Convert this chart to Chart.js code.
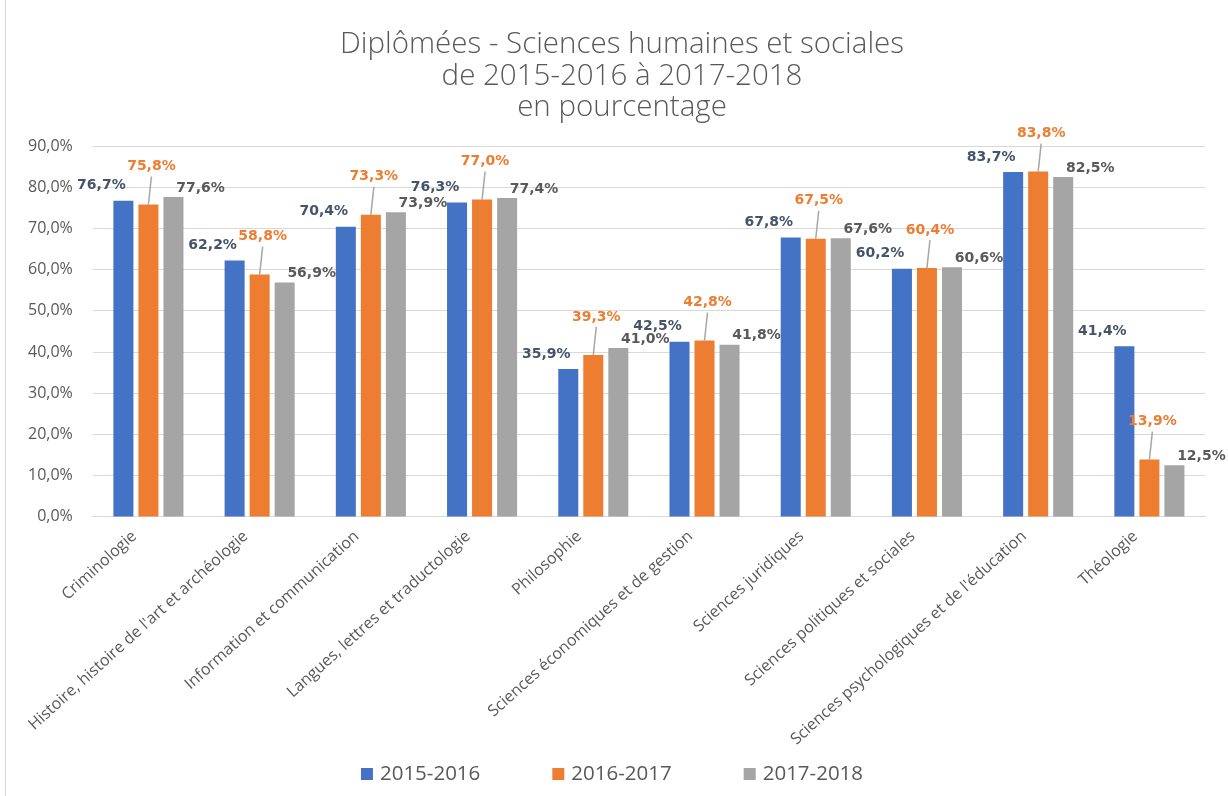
<!DOCTYPE html>
<html lang="fr">
<head>
<meta charset="utf-8">
<title>Diplômées - Sciences humaines et sociales</title>
<script src="https://cdn.jsdelivr.net/npm/chart.js@4.4.1/dist/chart.umd.min.js"></script>
<style>
  html, body { margin: 0; padding: 0; background: #fff; }
  #wrap { position: relative; width: 1228px; height: 796px; }
</style>
</head>
<body>
<div id="wrap"><canvas id="chart"></canvas></div>
<script>
const categories = [
  "Criminologie",
  "Histoire, histoire de l'art et archéologie",
  "Information et communication",
  "Langues, lettres et traductologie",
  "Philosophie",
  "Sciences économiques et de gestion",
  "Sciences juridiques",
  "Sciences politiques et sociales",
  "Sciences psychologiques et de l'éducation",
  "Théologie"
];
const seriesNames = ["2015-2016", "2016-2017", "2017-2018"];
const values2015 = [76.7, 62.2, 70.4, 76.3, 35.9, 42.5, 67.8, 60.2, 83.7, 41.4];
const values2016 = [75.8, 58.8, 73.3, 77.0, 39.3, 42.8, 67.5, 60.4, 83.8, 13.9];
const values2017 = [77.6, 56.9, 73.9, 77.4, 41.0, 41.8, 67.6, 60.6, 82.5, 12.5];
const titleLines = ["Diplômées - Sciences humaines et sociales", "de 2015-2016 à 2017-2018", "en pourcentage"];

const barColors = ["#4472C4", "#ED7D31", "#A5A5A5"];
const labelColors = ["#44546A", "#ED7D31", "#595959"];
// where each series puts its value label, relative to the top of its bar
const labelOffsets = [
  { dx: -22, dy: -15, leader: false },
  { dx: 3, dy: -38, leader: true },
  { dx: 27, dy: -9, leader: false }
];

function fmtPct(v) {
  return v.toFixed(1).replace(".", ",") + "%";
}

// title drawn by hand so it can sit a little right of the plot centre, as in the original
const titleBlock = {
  id: "titleBlock",
  afterDraw(chart) {
    const ctx = chart.ctx;
    ctx.save();
    ctx.font = '300 29.5px "Open Sans"';
    ctx.fillStyle = "#595959";
    ctx.textAlign = "center";
    ctx.textBaseline = "middle";
    titleLines.forEach((t, i) => ctx.fillText(t, 622, 45 + i * 31.5));
    ctx.restore();
  }
};

const barLabels = {
  id: "barLabels",
  afterDatasetsDraw(chart) {
    const ctx = chart.ctx;
    ctx.save();
    ctx.font = 'bold 14px "DejaVu Sans"';
    ctx.textAlign = "center";
    ctx.textBaseline = "middle";
    chart.data.datasets.forEach((ds, di) => {
      const meta = chart.getDatasetMeta(di);
      const off = labelOffsets[di];
      meta.data.forEach((bar, i) => {
        const x = bar.x + off.dx;
        const y = bar.y + off.dy;
        if (off.leader) {
          ctx.strokeStyle = "#A6A6A6";
          ctx.lineWidth = 1.5;
          ctx.beginPath();
          ctx.moveTo(bar.x, bar.y);
          ctx.lineTo(x, y + 10);
          ctx.stroke();
        }
        ctx.fillStyle = labelColors[di];
        ctx.fillText(fmtPct(ds.data[i]), x, y);
      });
    });
    ctx.restore();
  }
};

const bottomLegend = {
  id: "bottomLegend",
  afterDraw(chart) {
    const ctx = chart.ctx;
    ctx.save();
    ctx.font = '20.5px "Open Sans"';
    ctx.textBaseline = "middle";
    const box = 12, gap = 7, spacing = 72;
    const widths = seriesNames.map(n => box + gap + ctx.measureText(n).width);
    const total = widths.reduce((a, b) => a + b, 0) + spacing * (widths.length - 1);
    let x = 612 - total / 2;
    const y = 774;
    seriesNames.forEach((n, i) => {
      ctx.fillStyle = barColors[i];
      ctx.fillRect(x, y - box / 2, box, box);
      ctx.fillStyle = "#595959";
      ctx.fillText(n, x + box + gap, y);
      x += widths[i] + spacing;
    });
    // chart frame
    ctx.strokeStyle = "#D9D9D9";
    ctx.lineWidth = 1;
    ctx.beginPath();
    ctx.moveTo(5.5, 0);
    ctx.lineTo(5.5, chart.height);
    ctx.stroke();
    ctx.restore();
  }
};

new Chart(document.getElementById("chart"), {
  type: "bar",
  data: {
    labels: categories,
    datasets: [
      { label: seriesNames[0], data: values2015, backgroundColor: barColors[0] },
      { label: seriesNames[1], data: values2016, backgroundColor: barColors[1] },
      { label: seriesNames[2], data: values2017, backgroundColor: barColors[2] }
    ]
  },
  options: {
    responsive: true,
    maintainAspectRatio: false,
    animation: false,
    layout: { padding: { left: 8, right: 23, bottom: 45, top: 146 } },
    datasets: { bar: { categoryPercentage: 0.675, barPercentage: 0.8 } },
    plugins: {
      legend: { display: false },
      tooltip: { enabled: false },
      title: { display: false }
    },
    scales: {
      x: {
        grid: { display: false },
        border: { color: "#D9D9D9", width: 1 },
        ticks: {
          color: "#595959",
          font: { family: "Open Sans", size: 16 },
          maxRotation: 42,
          minRotation: 42,
          padding: 2,
          labelOffset: -14,
          autoSkip: false
        }
      },
      y: {
        min: 0,
        max: 90,
        border: { display: false },
        grid: { color: "#D9D9D9", drawTicks: false },
        ticks: {
          stepSize: 10,
          padding: 20,
          color: "#595959",
          font: { family: "Open Sans", size: 16 },
          callback: v => fmtPct(v)
        }
      }
    }
  },
  plugins: [barLabels, titleBlock, bottomLegend]
});
</script>
</body>
</html>
